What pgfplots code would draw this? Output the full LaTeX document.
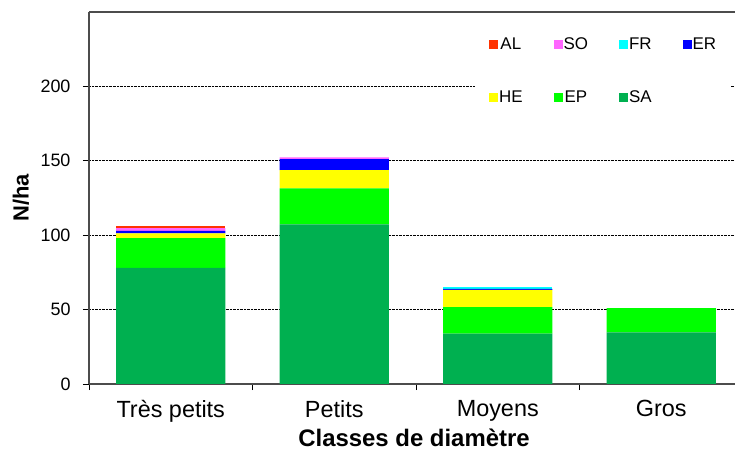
\documentclass[border=0pt]{standalone}
\usepackage{pgfplots}
\pgfplotsset{compat=1.18}
\usepackage{fontspec}
\setmainfont{Liberation Sans}
\definecolor{cSA}{RGB}{0,176,80}
\definecolor{cEP}{RGB}{0,255,0}
\definecolor{cHE}{RGB}{255,255,0}
\definecolor{cER}{RGB}{0,0,255}
\definecolor{cFR}{RGB}{0,255,255}
\definecolor{cSO}{RGB}{255,102,255}
\definecolor{cAL}{RGB}{255,51,0}
\begin{document}
\begin{tikzpicture}
\path[use as bounding box] (-89bp,-71bp) rectangle (646bp,384bp);
\begin{axis}[
  at={(0,0)}, anchor=south west,
  scale only axis, width=654bp, height=372bp,
  ybar stacked, bar width=0.667,
  xmin=-0.5, xmax=3.5, ymin=0, ymax=250,
  axis x line*=box, axis y line*=left,
  xtick pos=bottom, ytick pos=left,
  axis line style={draw=gray!60!black, line width=1.2bp},
  xtick={-0.5,0.5,1.5,2.5,3.5},
  xticklabels={Très petits, Petits, Moyens, Gros},
  x tick label as interval,
  ytick={0,50,100,150,200},
  tick align=outside, major tick length=6bp,
  tick style={black, line width=0.6bp},
  ymajorgrids, grid style={densely dotted, black, line width=0.6bp},
  /pgf/number format/assume math mode=true,
  x tick label style={font=\fontsize{23.5}{23.5}\selectfont, yshift=-7bp},
  y tick label style={font=\fontsize{18}{18}\selectfont, xshift=-9bp},
  xlabel={Classes de diamètre},
  ylabel={N/ha},
  xlabel style={font=\bfseries\fontsize{24}{24}\selectfont, at={(axis description cs:0.497,-0.145)}, anchor=center},
  ylabel style={font=\bfseries\fontsize{22}{22}\selectfont, at={(axis description cs:-0.104,0.5)}, anchor=center},
  legend columns=4, reverse legend,
  legend image code/.code={\fill[#1,draw=none] (0bp,-4.5bp) rectangle (9bp,4.5bp);},
  legend style={at={(rel axis cs:0.590,0.960)}, anchor=north west, draw=none, fill=white,
    font=\fontsize{17}{17}\selectfont, inner xsep=14bp, inner ysep=10bp, row sep=37bp,
    nodes={inner sep=1bp},
    /tikz/every even column/.append style={column sep=30bp}},
]
\addplot[fill=cSA, draw=none] coordinates {(0,78) (1,107.2) (2,33.8) (3,34.7)};
\addplot[fill=cEP, draw=none] coordinates {(0,20) (1,24.3) (2,17.9) (3,16.3)};
\addplot[fill=cHE, draw=none] coordinates {(0,3.3) (1,12.3) (2,11.6) (3,0)};
\addplot[fill=cER, draw=none] coordinates {(0,1.6) (1,7.4) (2,0.6) (3,0)};
\addplot[fill=cFR, draw=none] coordinates {(0,0) (1,0) (2,1.2) (3,0)};
\addplot[fill=cSO, draw=none] coordinates {(0,1.8) (1,1.1) (2,0) (3,0)};
\addplot[fill=cAL, draw=none] coordinates {(0,1.3) (1,0) (2,0) (3,0)};
\legend{SA,EP,HE,ER,FR,SO,AL}
\end{axis}
\end{tikzpicture}
\end{document}
